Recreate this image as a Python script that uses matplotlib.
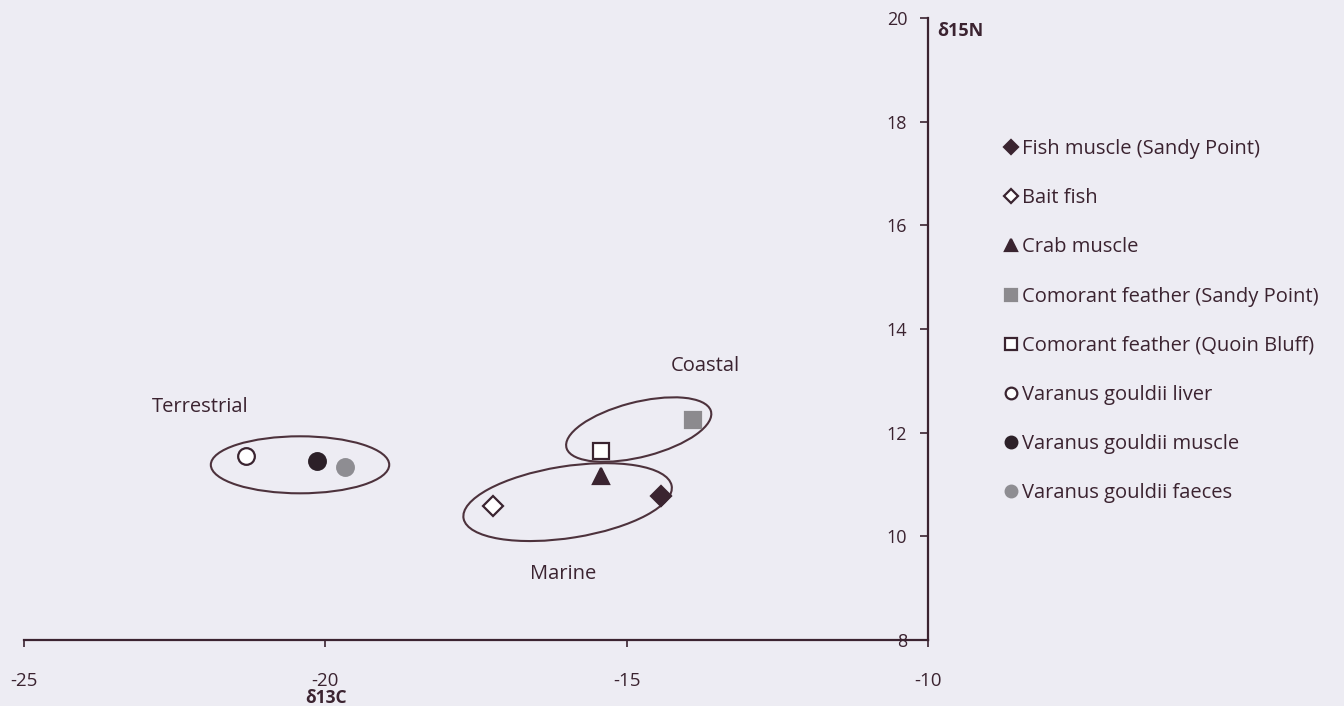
import matplotlib.pyplot as plt
from matplotlib.patches import Ellipse

# isotope values (d13C, d15N)
labels = ["Fish muscle (Sandy Point)", "Bait fish", "Crab muscle",
          "Comorant feather (Sandy Point)", "Comorant feather (Quoin Bluff)",
          "Varanus gouldii liver", "Varanus gouldii muscle", "Varanus gouldii faeces"]
d13C = [-14.43, -17.21, -15.42, -13.90, -15.43, -21.32, -20.14, -19.68]
d15N = [10.78, 10.59, 11.17, 12.25, 11.65, 11.55, 11.46, 11.34]
markers = ["D", "D", "^", "s", "s", "o", "o", "o"]
faces = ["#3a2430", "white", "#3a2430", "#8c8a8e", "white", "white", "#2c2028", "#8e8d92"]
edges = ["#3a2430", "#3a2430", "#3a2430", "#8c8a8e", "#3a2430", "#3a2430", "#2c2028", "#8e8d92"]
sizes = [10, 10, 12, 12, 12, 12, 12, 12]

# groups: name, centre, width, height, angle, label position
groups = ["Terrestrial", "Marine", "Coastal"]
grp_centre = [(-20.42, 11.38), (-15.98, 10.66), (-14.80, 12.06)]
grp_w = [2.96, 3.51, 2.50]
grp_h = [1.10, 1.38, 1.05]
grp_ang = [0, 10.6, 17.1]
grp_lab = [(-22.07, 12.50), (-16.05, 9.27), (-13.70, 13.28)]

ink = "#3b2330"
bg = "#edecf3"
plt.rcParams['font.family'] = ['Open Sans', 'DejaVu Sans']
plt.rcParams['axes.unicode_minus'] = False

fig = plt.figure(figsize=(13.44, 7.06), dpi=100, facecolor=bg)
ax = fig.add_axes([24/1344, 66/706, 904/1344, 622/706])
ax.set_facecolor(bg)

for i in range(len(labels)):
    ax.plot(d13C[i], d15N[i], linestyle="none", marker=markers[i], markersize=sizes[i],
            markerfacecolor=faces[i], markeredgecolor=edges[i], markeredgewidth=1.6,
            label=labels[i])

for i in range(len(groups)):
    ax.add_patch(Ellipse(grp_centre[i], grp_w[i], grp_h[i], angle=grp_ang[i],
                         fill=False, edgecolor="#4d323c", linewidth=1.5))
    ax.text(grp_lab[i][0], grp_lab[i][1], groups[i], ha="center", va="center",
            fontsize=14.5, color=ink)

ax.set_xlim(-25, -10)
ax.set_ylim(8, 20)
ax.set_xticks([-25, -20, -15, -10])
ax.set_yticks([8, 10, 12, 14, 16, 18, 20])
ax.spines['left'].set_position(('data', -10))
ax.spines['right'].set_visible(False)
ax.spines['top'].set_visible(False)
for s in ['left', 'bottom']:
    ax.spines[s].set_color(ink)
    ax.spines[s].set_linewidth(1.6)
ax.tick_params(axis='x', colors=ink, labelsize=13.5, pad=18, length=5, width=1.2)
ax.tick_params(axis='y', colors=ink, labelsize=13, pad=9, length=6, width=1.2)

ax.text(-9.85, 19.75, "δ15N", ha="left", va="center", fontsize=13, fontweight="bold", color=ink)
fig.text(326/1344, 1 - 698/706, "δ13C", ha="center", va="center", fontsize=12.5,
         fontweight="bold", color=ink)

leg = ax.legend(loc="upper left", bbox_to_anchor=(994/1344, 1 - 131/706),
                bbox_transform=fig.transFigure, frameon=False, fontsize=14.5,
                labelspacing=1.45, handletextpad=0.1, handlelength=0.9,
                markerscale=0.7, borderaxespad=0)
for t in leg.get_texts():
    t.set_color(ink)

fig.savefig("out.png", dpi=100, facecolor=bg)
